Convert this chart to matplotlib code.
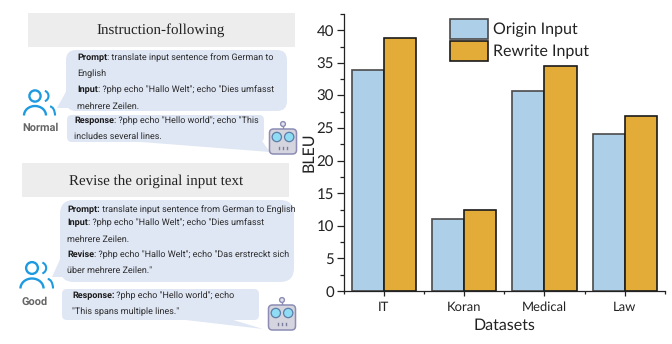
import numpy as np
import matplotlib
matplotlib.use("agg")

from matplotlib import pyplot as plt
from matplotlib.patches import FancyBboxPatch, Polygon, Circle, Arc
from matplotlib.ticker import MultipleLocator

plt.rcParams["text.hinting"] = "none"
plt.rcParams["text.hinting_factor"] = 1

W, H = 672, 344

# bar data
datasets = ["IT", "Koran", "Medical", "Law"]
origin_input = [33.9, 11.0, 30.7, 24.1]
rewrite_input = [38.8, 12.5, 34.5, 26.9]
series_names = ["Origin Input", "Rewrite Input"]

# left panel texts, each line is (bold part, regular part)
title_top = "Instruction-following"
title_bottom = "Revise the original input text"
normal_prompt = [("Prompt", ": translate input sentence from German to"),
                 ("", "English"),
                 ("Input", ": ?php echo \"Hallo Welt\"; echo \"Dies umfasst"),
                 ("", "mehrere Zeilen.")]
normal_response = [("Response", ": ?php echo \"Hello world\"; echo \"This"),
                   ("", "includes several lines.")]
good_prompt = [("Prompt:", " translate input sentence from German to English"),
               ("Input", ": ?php echo \"Hallo Welt\"; echo \"Dies umfasst"),
               ("", "mehrere Zeilen."),
               ("Revise", ": ?php echo \"Hallo Welt\"; echo \"Das erstreckt sich"),
               ("", "über mehrere Zeilen.\"")]
good_response = [("Response:", " ?php echo \"Hello world\"; echo"),
                 ("", "\"This spans multiple lines.\"")]

BUBBLE = "#DFE6F4"
BOX = "#EDEDED"
ICON = "#1E9AE0"
TXT = "#2A2A2A"
CHART_FONT = "Lato"

fig = plt.figure(figsize=(W / 100, H / 100), dpi=100)

# overlay in pixel coordinates for the left panel
bg = fig.add_axes([0, 0, 1, 1])
bg.set_xlim(0, W)
bg.set_ylim(H, 0)
bg.axis("off")


def rbox(x0, y0, x1, y1, r, color):
    bg.add_patch(FancyBboxPatch((x0 + r, y0 + r), x1 - x0 - 2 * r, y1 - y0 - 2 * r,
                                boxstyle="round,pad=%s,rounding_size=%s" % (r, r),
                                fc=color, ec="none"))


def lines(rows, x, ys, size=6.3):
    renderer = fig.canvas.get_renderer()
    for (bold, rest), y in zip(rows, ys):
        cur = x
        if bold:
            t = bg.text(cur, y, bold, fontsize=size, fontweight="bold", family="Roboto",
                        color="#1A1A1A", va="center", ha="left")
            cur += t.get_window_extent(renderer).width
        bg.text(cur, y, rest, fontsize=size, family="Roboto", color=TXT, va="center", ha="left")


def user(x, y, s):
    # x, y is the head centre, s the scale
    bg.add_patch(Circle((x, y), 5.6 * s, fc="none", ec=ICON, lw=1.7))
    bg.add_patch(Arc((x, y + 19.5 * s), 22 * s, 19 * s, theta1=180, theta2=360, ec=ICON, lw=1.7))
    bg.add_patch(Arc((x + 8 * s, y), 11 * s, 11 * s, theta1=290, theta2=70, ec=ICON, lw=1.5))
    bg.add_patch(Arc((x + 15 * s, y + 19.5 * s), 10 * s, 18 * s, theta1=270, theta2=360, ec=ICON, lw=1.5))


def robot(x, y):
    # x, y is the point between the eyes
    bg.plot([x, x], [y - 13, y - 8], color="#8C8CB4", lw=1, solid_capstyle="butt")
    bg.add_patch(Circle((x, y - 13), 2.4, fc="#E4E4EE", ec="#8C8CB4", lw=1, zorder=3))
    bg.add_patch(FancyBboxPatch((x - 11.5, y - 6), 23, 21, boxstyle="round,pad=2,rounding_size=4",
                                fc="#D5D5DF", ec="#8C8CB4", lw=1.1, zorder=3))
    for dx in (-6.2, 6.2):
        bg.add_patch(Circle((x + dx, y), 5.3, fc="#5E7FA8", ec="none", zorder=4))
        bg.add_patch(Circle((x + dx, y), 4, fc="#8FDCF5", ec="none", zorder=5))
    for dx in (-4, 0, 4):
        bg.plot([x + dx, x + dx], [y + 10, y + 12], color="#7C7C9C", lw=1, zorder=5)


# top example
rbox(28, 13, 295, 47, 0.5, BOX)
bg.text(161, 30, title_top, fontsize=10.7, family="Liberation Serif", color="#222222", ha="center", va="center")
rbox(66, 50, 287, 111, 10, BUBBLE)
bg.add_patch(Polygon([[57, 108], [68, 88], [72, 108]], fc=BUBBLE, ec="none"))
lines(normal_prompt, 77, [58, 74, 90, 106])
rbox(67, 115, 264, 142, 5, BUBBLE)
bg.add_patch(Polygon([[128, 141], [262, 141], [270, 152]], fc=BUBBLE, ec="none"))
lines(normal_response, 74.5, [120.5, 136.5])
user(35, 96, 1.0)
bg.text(40, 128, "Normal", fontsize=8, fontweight="bold", family="Roboto", color="#666666", ha="center", va="center")
robot(283, 137)

# bottom example
rbox(22, 163, 289, 197, 0.5, BOX)
bg.text(156, 181, title_bottom, fontsize=10.7, family="Liberation Serif", color="#222222", ha="center", va="center")
rbox(60, 200, 294, 282, 14, BUBBLE)
bg.add_patch(Polygon([[52, 277], [62, 255], [70, 277]], fc=BUBBLE, ec="none"))
lines(good_prompt, 67, [209.5, 223, 239, 254.5, 270])
rbox(62, 289, 259, 320, 5, BUBBLE)
bg.add_patch(Polygon([[177, 319], [230, 319], [263, 329]], fc=BUBBLE, ec="none"))
lines(good_response, 72, [296, 312])
user(32, 268, 1.05)
bg.text(35, 302, "Good", fontsize=8, fontweight="bold", family="Roboto", color="#666666", ha="center", va="center")
robot(282, 313)

# bar chart, axes box in pixels
left, right, top, bottom = 343.5, 665, 14, 291
ax = fig.add_axes([left / W, 1 - bottom / H, (right - left) / W, (bottom - top) / H])
ax.patch.set_alpha(0)

x = np.arange(len(datasets))
w = 0.4
ax.bar(x - w / 2, origin_input, w, color="#AECFE8", edgecolor="#4A4A4A", linewidth=1.2, label=series_names[0])
ax.bar(x + w / 2, rewrite_input, w, color="#E3AC38", edgecolor="#1A1A1A", linewidth=1.2, label=series_names[1])

ax.set_xlim(-0.5, 3.5)
ax.set_ylim(0, 42.5)
ax.set_xticks(x)
ax.set_xticklabels(datasets)
ax.xaxis.set_minor_locator(MultipleLocator(1, offset=0.5))
ax.yaxis.set_major_locator(MultipleLocator(5))
ax.yaxis.set_minor_locator(MultipleLocator(2.5))
ax.spines["top"].set_visible(False)
ax.spines["right"].set_visible(False)
for s in ("left", "bottom"):
    ax.spines[s].set_linewidth(0.9)
    ax.spines[s].set_color("#222222")
ax.tick_params(axis="y", which="major", length=5, width=0.9, labelsize=10.7, pad=2, colors="#222222")
ax.tick_params(axis="y", which="minor", length=3, width=0.9, colors="#222222")
ax.tick_params(axis="x", which="major", length=3.5, width=0.9, labelsize=9.5, pad=4, colors="#222222")
ax.tick_params(axis="x", which="minor", length=2, width=0.9, colors="#222222")
for lab in ax.get_xticklabels() + ax.get_yticklabels():
    lab.set_family(CHART_FONT)
ax.set_xlabel("Datasets", fontsize=11.2, family=CHART_FONT, labelpad=3.5, color="#222222")
ax.set_ylabel("BLEU", fontsize=11.2, family=CHART_FONT, labelpad=0.5, color="#222222")
ax.legend(loc="upper left", bbox_to_anchor=((450 - left) / (right - left), 1 + (14 - 19) / (bottom - top)),
          frameon=False, prop={"family": CHART_FONT, "size": 11.7},
          handlelength=2.32, handleheight=1.52, handletextpad=0.3, labelspacing=0.14,
          borderpad=0, borderaxespad=0, labelcolor="#222222")

fig.savefig("out.png", dpi=100)
